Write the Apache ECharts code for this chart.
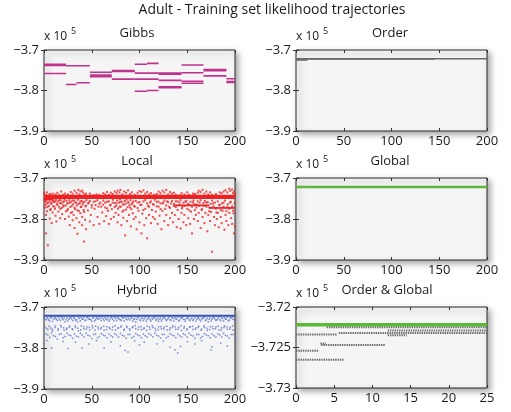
<!DOCTYPE html>
<html><head><meta charset="utf-8">
<script src="https://cdn.jsdelivr.net/npm/echarts@6/dist/echarts.min.js"></script>
<style>html,body{margin:0;padding:0;background:#fff}#c{width:511px;height:412px}</style>
</head><body><div id="c"></div>
<script>
const FONT = "'Open Sans', sans-serif";
const mainTitle = 'Adult - Training set likelihood trajectories';
const panelTitles = ['Gibbs', 'Order', 'Local', 'Global', 'Hybrid', 'Order & Global'];
const exponentText = 'x 10';
const exponentPower = '5';

// axis ranges per panel (values in units of 10^5)
const xMaxes = [200, 200, 200, 200, 200, 25];
const xSteps = [50, 50, 50, 50, 50, 5];
const yMins = [-3.9, -3.9, -3.9, -3.9, -3.9, -3.73];
const yMaxes = [-3.7, -3.7, -3.7, -3.7, -3.7, -3.72];
const ySteps = [0.1, 0.1, 0.1, 0.1, 0.1, 0.005];

// Gibbs: constant-value chain segments [xStart, xEnd, value]
const gibbsSegments = [
  [0,23,-3.735],[0,23,-3.738],[0,23,-3.758],
  [23,48,-3.739],[23,34,-3.785],[34,48,-3.781],
  [48,71,-3.755],[48,71,-3.762],[48,71,-3.766],
  [71,95,-3.751],[71,95,-3.753],[71,95,-3.772],
  [95,108,-3.735],[108,120,-3.733],[95,120,-3.757],[95,120,-3.772],[95,108,-3.802],[108,120,-3.800],
  [120,144,-3.757],[120,144,-3.760],[120,144,-3.775],[120,144,-3.791],[120,144,-3.793],
  [144,167,-3.737],[144,167,-3.756],[144,167,-3.777],[144,167,-3.782],
  [167,191,-3.748],[167,191,-3.751],[167,191,-3.764],
  [191,200,-3.771],[191,200,-3.778],[191,200,-3.780]
];

// Order: converged chains [xStart, xEnd, value]
const orderSegments = [[0,200,-3.7215],[0,145,-3.7225],[0,12,-3.7245]];

// Global: single trajectory
const globalSegments = [[0,200,-3.7222]];

// Local: dense band + secondary band + scattered samples
const localBand = [[0,200,-3.7445],[0,200,-3.7475],[0,10,-3.750]];
const localBand2 = [[136,173,-3.767],[173,200,-3.773]];
const localPoints = [
[1,-3.758],[1,-3.772],[2,-3.790],[2,-3.835],[3,-3.762],[3,-3.781],[4,-3.864],[4,-3.752],[5,-3.768],[6,-3.799],[6,-3.757],[7,-3.776],[8,-3.761],[8,-3.810],[9,-3.784],[10,-3.755],[0,-3.737],[3,-3.735],[6,-3.739],[9,-3.738],
[11,-3.770],[12,-3.792],[12,-3.758],[13,-3.806],[14,-3.765],[15,-3.782],[16,-3.754],[17,-3.775],[17,-3.798],[18,-3.762],[19,-3.788],[20,-3.770],[21,-3.757],[22,-3.800],[23,-3.781],[24,-3.763],[14,-3.736],[18,-3.733],[22,-3.738],
[25,-3.776],[26,-3.794],[27,-3.760],[27,-3.815],[28,-3.785],[29,-3.768],[30,-3.803],[30,-3.755],[31,-3.790],[32,-3.822],[32,-3.772],[33,-3.760],[34,-3.798],[35,-3.836],[35,-3.779],[36,-3.763],[37,-3.808],[38,-3.786],[38,-3.757],[39,-3.770],[40,-3.815],[40,-3.795],[41,-3.760],[42,-3.855],[42,-3.783],[43,-3.802],[44,-3.768],[44,-3.825],[28,-3.734],[32,-3.731],[36,-3.729],[38,-3.733],[41,-3.736],[44,-3.738],
[46,-3.779],[47,-3.760],[48,-3.806],[49,-3.790],[50,-3.766],[52,-3.815],[53,-3.775],[54,-3.757],[56,-3.795],[57,-3.770],[58,-3.812],[59,-3.760],[48,-3.738],[55,-3.740],
[61,-3.784],[62,-3.765],[63,-3.805],[64,-3.772],[65,-3.793],[66,-3.758],[67,-3.780],[68,-3.812],[69,-3.767],[70,-3.800],[71,-3.776],[72,-3.760],[73,-3.795],[74,-3.771],[62,-3.737],[66,-3.734],[70,-3.736],[74,-3.733],
[75,-3.785],[76,-3.762],[77,-3.808],[78,-3.790],[79,-3.770],[80,-3.758],[81,-3.815],[82,-3.782],[83,-3.797],[84,-3.765],[85,-3.840],[86,-3.777],[87,-3.805],[88,-3.760],[89,-3.790],[90,-3.772],[91,-3.818],[92,-3.764],[93,-3.786],[94,-3.800],[77,-3.731],[80,-3.729],[84,-3.733],[88,-3.730],[92,-3.735],
[95,-3.770],[96,-3.795],[97,-3.825],[98,-3.760],[99,-3.780],[100,-3.808],[101,-3.766],[102,-3.835],[103,-3.787],[104,-3.757],[105,-3.815],[106,-3.775],[107,-3.798],[108,-3.847],[109,-3.768],[110,-3.790],[111,-3.760],[112,-3.810],[113,-3.778],[114,-3.795],[100,-3.732],[104,-3.730],[108,-3.734],[112,-3.737],
[115,-3.765],[116,-3.800],[117,-3.782],[118,-3.758],[119,-3.812],[120,-3.770],[121,-3.792],[122,-3.762],[123,-3.825],[124,-3.780],[125,-3.760],[126,-3.805],[127,-3.775],[128,-3.790],[129,-3.757],[130,-3.815],[131,-3.770],[132,-3.798],[133,-3.762],[134,-3.785],[135,-3.808],[136,-3.768],[137,-3.790],[138,-3.757],[139,-3.820],[120,-3.733],[124,-3.731],[128,-3.729],[132,-3.734],[136,-3.736],
[140,-3.778],[141,-3.800],[142,-3.760],[143,-3.823],[144,-3.785],[145,-3.770],[146,-3.808],[147,-3.790],[148,-3.758],[149,-3.815],[150,-3.775],[151,-3.798],[152,-3.765],[153,-3.812],[154,-3.782],[155,-3.835],[156,-3.760],[157,-3.800],[158,-3.778],[159,-3.790],[144,-3.737],[150,-3.735],[156,-3.738],
[160,-3.765],[161,-3.805],[162,-3.785],[163,-3.760],[164,-3.822],[165,-3.778],[166,-3.795],[167,-3.768],[168,-3.810],[169,-3.785],[170,-3.760],[171,-3.830],[172,-3.790],[173,-3.772],[174,-3.805],[175,-3.783],[176,-3.880],[177,-3.762],[178,-3.795],[179,-3.815],[162,-3.731],[166,-3.729],[170,-3.733],[174,-3.735],
[180,-3.775],[181,-3.800],[182,-3.785],[183,-3.820],[184,-3.765],[185,-3.795],[186,-3.810],[187,-3.780],[188,-3.760],[189,-3.826],[190,-3.790],[191,-3.805],[192,-3.770],[193,-3.815],[194,-3.785],[195,-3.760],[196,-3.798],[197,-3.812],[198,-3.780],[199,-3.835],[200,-3.818],[184,-3.735],[190,-3.730],[194,-3.726],[197,-3.728],[199,-3.733]
];
// Local: extra samples close under the band
const localNearBand = [
[0.5,-3.753],[1.5,-3.766],[2.5,-3.756],[3.5,-3.771],[4.5,-3.760],[5.5,-3.752],[6.5,-3.778],[7.5,-3.763],[8.5,-3.755],[9.5,-3.769],
[10.5,-3.758],[11.5,-3.775],[12.5,-3.753],[13.5,-3.764],[14.5,-3.757],[15.5,-3.770],[16.5,-3.761],[17.5,-3.754],[18.5,-3.773],[19.5,-3.759],
[20.5,-3.766],[21.5,-3.752],[22.5,-3.768],[23.5,-3.756],[24.5,-3.779],[25.5,-3.761],[26.5,-3.754],[27.5,-3.771],[28.5,-3.758],[29.5,-3.783],
[30.5,-3.764],[31.5,-3.755],[32.5,-3.776],[33.5,-3.760],[34.5,-3.767],[35.5,-3.753],[36.5,-3.780],[37.5,-3.762],[38.5,-3.771],[39.5,-3.756],
[40.5,-3.765],[41.5,-3.778],[42.5,-3.758],[43.5,-3.769],[44.5,-3.754],[46,-3.762],[48,-3.756],[50,-3.772],[52,-3.758],[54,-3.766],
[56,-3.754],[58,-3.763],[60,-3.770],[62,-3.755],[64,-3.760],[66,-3.774],[68,-3.757],[70,-3.765],[72,-3.753],[74,-3.761],
[75.5,-3.768],[76.5,-3.755],[77.5,-3.775],[78.5,-3.760],[79.5,-3.752],[80.5,-3.770],[81.5,-3.758],[82.5,-3.764],[83.5,-3.779],[84.5,-3.756],
[85.5,-3.762],[86.5,-3.753],[87.5,-3.771],[88.5,-3.759],[89.5,-3.766],[90.5,-3.754],[91.5,-3.776],[92.5,-3.761],[93.5,-3.757],[94.5,-3.768],
[96,-3.756],[98,-3.773],[100,-3.759],[102,-3.765],[104,-3.778],[106,-3.754],[108,-3.762],[110,-3.770],[112,-3.757],[114,-3.764],
[116,-3.753],[118,-3.769],[120,-3.758],[122,-3.776],[124,-3.762],[126,-3.755],[128,-3.767],[130,-3.759],[132,-3.773],[134,-3.756],
[136,-3.763],[138,-3.771],[140,-3.757],[141.5,-3.766],[143,-3.754],[144.5,-3.774],[146,-3.760],[147.5,-3.768],[149,-3.756],[150.5,-3.763],
[152,-3.779],[153.5,-3.758],[155,-3.770],[156.5,-3.755],[158,-3.764],[159.5,-3.772],[161,-3.757],[162.5,-3.768],[164,-3.754],[165.5,-3.776],
[167,-3.761],[168.5,-3.756],[170,-3.770],[171.5,-3.759],[173,-3.781],[174.5,-3.763],[176,-3.755],[177.5,-3.769],[179,-3.760],[180.5,-3.784],
[182,-3.757],[183.5,-3.766],[185,-3.778],[186.5,-3.762],[188,-3.770],[189.5,-3.755],[191,-3.781],[192.5,-3.764],[194,-3.775],[195.5,-3.758],
[197,-3.769],[198.5,-3.786],[199.5,-3.762],
[2,-3.741],[7,-3.742],[12,-3.740],[16,-3.742],[20,-3.741],[25,-3.740],[30,-3.738],[34,-3.736],[37,-3.740],[40,-3.731],[43,-3.741],[52,-3.742],[58,-3.741],[64,-3.740],[68,-3.741],[72,-3.739],[76,-3.737],[79,-3.735],[82,-3.740],[86,-3.736],[90,-3.739],[95,-3.741],[98,-3.736],[102,-3.734],[106,-3.738],[110,-3.740],[115,-3.741],[118,-3.739],[122,-3.737],[126,-3.735],[130,-3.740],[134,-3.738],[138,-3.741],[142,-3.742],[147,-3.740],[152,-3.741],[158,-3.739],[161,-3.736],[164,-3.734],[168,-3.738],[172,-3.740],[176,-3.741],[180,-3.739],[186,-3.737],[188,-3.733],[192,-3.735],[195,-3.731],[198,-3.737],[200,-3.739]
];

// Hybrid: best-chain line + scattered samples
const hybridLine = [[0,200,-3.7215]];
const hybridPoints = [
[0,-3.726],[2,-3.731],[4,-3.728],[6,-3.734],[8,-3.725],[10,-3.730],[12,-3.727],[14,-3.733],[16,-3.729],[18,-3.725],[20,-3.731],[22,-3.736],[24,-3.727],[26,-3.730],[28,-3.725],[30,-3.733],[32,-3.728],[34,-3.731],[36,-3.726],[38,-3.734],[40,-3.729],[42,-3.725],[44,-3.732],[46,-3.727],[48,-3.730],[50,-3.735],[52,-3.726],[54,-3.731],[56,-3.728],[58,-3.724],[60,-3.733],[62,-3.729],[64,-3.726],[66,-3.731],[68,-3.735],[70,-3.727],[72,-3.730],[74,-3.725],[76,-3.733],[78,-3.728],[80,-3.731],[82,-3.726],[84,-3.734],[86,-3.729],[88,-3.725],[90,-3.732],[92,-3.727],[94,-3.730],[96,-3.736],[98,-3.726],[100,-3.731],[102,-3.728],[104,-3.733],[106,-3.725],[108,-3.730],[110,-3.727],[112,-3.734],[114,-3.729],[116,-3.726],[118,-3.731],[120,-3.735],[122,-3.727],[124,-3.730],[126,-3.725],[128,-3.733],[130,-3.728],[132,-3.731],[134,-3.726],[136,-3.734],[138,-3.729],[140,-3.725],[142,-3.732],[144,-3.727],[146,-3.730],[148,-3.735],[150,-3.726],[152,-3.731],[154,-3.728],[156,-3.733],[158,-3.725],[160,-3.730],[162,-3.727],[164,-3.734],[166,-3.729],[168,-3.726],[170,-3.731],[172,-3.736],[174,-3.727],[176,-3.730],[178,-3.725],[180,-3.733],[182,-3.728],[184,-3.731],[186,-3.726],[188,-3.734],[190,-3.729],[192,-3.725],[194,-3.732],[196,-3.727],[198,-3.730],[200,-3.734],
[1,-3.748],[4,-3.755],[7,-3.751],[9,-3.758],[12,-3.746],[15,-3.753],[18,-3.749],[21,-3.757],[24,-3.752],[27,-3.747],[30,-3.755],[33,-3.750],[36,-3.758],[39,-3.746],[42,-3.753],[45,-3.749],[48,-3.756],[51,-3.751],[54,-3.747],[57,-3.754],[60,-3.750],[63,-3.757],[66,-3.748],[69,-3.753],[72,-3.749],[75,-3.756],[78,-3.751],[81,-3.746],[84,-3.754],[87,-3.750],[90,-3.757],[93,-3.748],[96,-3.753],[99,-3.749],[102,-3.755],[105,-3.751],[108,-3.747],[111,-3.754],[114,-3.750],[117,-3.757],[120,-3.748],[123,-3.753],[126,-3.749],[129,-3.756],[132,-3.751],[135,-3.746],[138,-3.754],[141,-3.750],[144,-3.757],[147,-3.748],[150,-3.753],[153,-3.749],[156,-3.755],[159,-3.751],[162,-3.747],[165,-3.754],[168,-3.750],[171,-3.757],[174,-3.748],[177,-3.753],[180,-3.749],[183,-3.756],[186,-3.751],[189,-3.746],[192,-3.754],[195,-3.750],[198,-3.757],
[2,-3.766],[6,-3.774],[10,-3.770],[14,-3.778],[18,-3.765],[22,-3.772],[26,-3.768],[30,-3.776],[34,-3.771],[38,-3.764],[42,-3.773],[46,-3.769],[50,-3.777],[54,-3.766],[58,-3.772],[62,-3.768],[66,-3.775],[70,-3.770],[74,-3.765],[78,-3.773],[82,-3.769],[86,-3.776],[90,-3.767],[94,-3.772],[98,-3.768],[102,-3.775],[106,-3.770],[110,-3.765],[114,-3.773],[118,-3.769],[122,-3.776],[126,-3.767],[130,-3.772],[134,-3.768],[138,-3.775],[142,-3.770],[146,-3.765],[150,-3.773],[154,-3.769],[158,-3.776],[162,-3.767],[166,-3.772],[170,-3.768],[174,-3.775],[178,-3.770],[182,-3.765],[186,-3.773],[190,-3.769],[194,-3.776],[198,-3.767],
[3,-3.782],[8,-3.800],[20,-3.784],[25,-3.801],[33,-3.786],[40,-3.800],[47,-3.790],[55,-3.782],[63,-3.800],[70,-3.785],[80,-3.795],[85,-3.806],[88,-3.810],[95,-3.783],[100,-3.792],[105,-3.786],[118,-3.790],[125,-3.783],[132,-3.798],[137,-3.804],[140,-3.812],[143,-3.796],[150,-3.785],[158,-3.790],[165,-3.782],[175,-3.805],[176,-3.797],[185,-3.788],[192,-3.795]
];
const hybridPoints2 = [
[1,-3.729],[3,-3.725],[5,-3.732],[7,-3.727],[9,-3.735],[11,-3.726],[13,-3.730],[15,-3.724],[17,-3.733],[19,-3.728],[21,-3.726],[23,-3.731],[25,-3.734],[27,-3.727],[29,-3.729],[31,-3.725],[33,-3.732],[35,-3.736],[37,-3.728],[39,-3.726],[41,-3.730],[43,-3.733],[45,-3.725],[47,-3.729],[49,-3.731],[51,-3.727],[53,-3.734],[55,-3.726],[57,-3.730],[59,-3.728],[61,-3.725],[63,-3.733],[65,-3.729],[67,-3.727],[69,-3.731],[71,-3.725],[73,-3.734],[75,-3.728],[77,-3.726],[79,-3.730],[81,-3.733],[83,-3.727],[85,-3.725],[87,-3.731],[89,-3.729],[91,-3.726],[93,-3.734],[95,-3.728],[97,-3.730],[99,-3.725],[101,-3.733],[103,-3.727],[105,-3.729],[107,-3.735],[109,-3.726],[111,-3.731],[113,-3.728],[115,-3.725],[117,-3.732],[119,-3.727],[121,-3.730],[123,-3.734],[125,-3.726],[127,-3.729],[129,-3.731],[131,-3.725],[133,-3.733],[135,-3.728],[137,-3.726],[139,-3.730],[141,-3.734],[143,-3.727],[145,-3.725],[147,-3.731],[149,-3.729],[151,-3.726],[153,-3.733],[155,-3.728],[157,-3.730],[159,-3.735],[161,-3.726],[163,-3.731],[165,-3.728],[167,-3.725],[169,-3.733],[171,-3.727],[173,-3.730],[175,-3.734],[177,-3.726],[179,-3.729],[181,-3.731],[183,-3.725],[185,-3.733],[187,-3.728],[189,-3.726],[191,-3.730],[193,-3.734],[195,-3.727],[197,-3.725],[199,-3.731],
[2.5,-3.752],[5.5,-3.747],[8.5,-3.754],[11.5,-3.750],[14.5,-3.757],[17.5,-3.745],[20.5,-3.751],[23.5,-3.755],[26.5,-3.749],[29.5,-3.753],[32.5,-3.746],[35.5,-3.752],[38.5,-3.756],[41.5,-3.748],[44.5,-3.754],[47.5,-3.750],[50.5,-3.746],[53.5,-3.757],[56.5,-3.749],[59.5,-3.753],[62.5,-3.747],[65.5,-3.755],[68.5,-3.750],[71.5,-3.756],[74.5,-3.746],[77.5,-3.752],[80.5,-3.749],[83.5,-3.757],[86.5,-3.747],[89.5,-3.753],[92.5,-3.750],[95.5,-3.746],[98.5,-3.755],[101.5,-3.748],[104.5,-3.753],[107.5,-3.757],[110.5,-3.749],[113.5,-3.746],[116.5,-3.752],[119.5,-3.755],[122.5,-3.748],[125.5,-3.753],[128.5,-3.747],[131.5,-3.756],[134.5,-3.750],[137.5,-3.748],[140.5,-3.754],[143.5,-3.746],[146.5,-3.752],[149.5,-3.756],[152.5,-3.749],[155.5,-3.747],[158.5,-3.754],[161.5,-3.750],[164.5,-3.757],[167.5,-3.746],[170.5,-3.752],[173.5,-3.755],[176.5,-3.748],[179.5,-3.753],[182.5,-3.747],[185.5,-3.756],[188.5,-3.750],[191.5,-3.748],[194.5,-3.754],[197.5,-3.746],
[4,-3.768],[8,-3.763],[12,-3.772],[16,-3.767],[20,-3.775],[24,-3.764],[28,-3.770],[32,-3.766],[36,-3.773],[40,-3.768],[44,-3.764],[48,-3.771],[52,-3.767],[56,-3.775],[60,-3.765],[64,-3.770],[68,-3.766],[72,-3.773],[76,-3.768],[80,-3.764],[84,-3.771],[88,-3.767],[92,-3.775],[96,-3.765],[100,-3.770],[104,-3.766],[108,-3.773],[112,-3.768],[116,-3.764],[120,-3.771],[124,-3.767],[128,-3.775],[132,-3.765],[136,-3.770],[140,-3.766],[144,-3.773],[148,-3.768],[152,-3.764],[156,-3.771],[160,-3.767],[164,-3.775],[168,-3.765],[172,-3.770],[176,-3.766],[180,-3.773],[184,-3.768],[188,-3.764],[192,-3.771],[196,-3.767],[200,-3.774]
];

// Order & Global (first 25 iterations)
const ogGlobal = [[0,25,-3.7222]];
const ogOrderRows = [
  [4.0,25,-3.7225],[12,25,-3.7229],[5.6,25,-3.7232],[12,14.5,-3.7235],[0,5.4,-3.7234],
  [3.2,3.9,-3.7245],[3.3,11.7,-3.7247],[0,3.0,-3.7254],[0,6.3,-3.7265]
];

// ---------- layout ----------
const grids = [
  {left:44, top:50, width:191, height:81},
  {left:296, top:50, width:191, height:81},
  {left:44, top:178, width:191, height:82},
  {left:296, top:178, width:191, height:82},
  {left:44, top:307, width:191, height:82},
  {left:296, top:307, width:191, height:81}
];
const COL = {gibbs:'#bf338c', order:'#6a6a6a', local:'#ee2222', global:'#5db83a', hybrid:'#3550b8', hybridDots:'#5570cc'};

function fmtY(v){ const r = parseFloat(Number(v).toFixed(4)); return (r<0?'\u2212':'') + Math.abs(r); }

const xAxes = [], yAxes = [], series = [];
grids.forEach((g,i)=>{
  const tick = {show:true, inside:true, length:3, lineStyle:{color:'#333', width:1}};
  xAxes.push({gridIndex:i, type:'value', position:'bottom', min:0, max:xMaxes[i], interval:xSteps[i],
    axisLine:{show:false}, axisTick:tick, splitLine:{show:false},
    axisLabel:{color:'#1a1a1a', fontSize:13, fontFamily:FONT, margin:4}});
  xAxes.push({gridIndex:i, type:'value', position:'top', min:0, max:xMaxes[i], interval:xSteps[i],
    axisLine:{show:false}, axisTick:tick, splitLine:{show:false}, axisLabel:{show:false}});
  yAxes.push({gridIndex:i, type:'value', position:'left', min:yMins[i], max:yMaxes[i], interval:ySteps[i],
    axisLine:{show:false}, axisTick:tick, splitLine:{show:false},
    axisLabel:{color:'#1a1a1a', fontSize:13, fontFamily:FONT, margin:5, formatter:fmtY}});
  yAxes.push({gridIndex:i, type:'value', position:'right', min:yMins[i], max:yMaxes[i], interval:ySteps[i],
    axisLine:{show:false}, axisTick:tick, splitLine:{show:false}, axisLabel:{show:false}});
});

function addSegments(panel, segs, color, width, type){
  segs.forEach(s=>{
    series.push({type:'line', xAxisIndex:panel*2, yAxisIndex:panel*2, silent:true, animation:false,
      symbol:'none', data:[[s[0],s[2]],[s[1],s[2]]],
      lineStyle:{color:color, width:width, type:type||'solid', cap:'butt'}});
  });
}
function addPoints(panel, pts, color, size){
  series.push({type:'scatter', xAxisIndex:panel*2, yAxisIndex:panel*2, silent:true, animation:false,
    symbol:'rect', symbolSize:size, data:pts, itemStyle:{color:color}});
}

addSegments(0, gibbsSegments, COL.gibbs, 1.6);
addSegments(1, orderSegments, COL.order, 1.5);
addPoints(2, localPoints, COL.local, 2);
addPoints(2, localNearBand, COL.local, 2);
addSegments(2, localBand, COL.local, 3);
addSegments(2, localBand2, COL.local, 1.8);
addSegments(3, globalSegments, COL.global, 2.5);
addPoints(4, hybridPoints, COL.hybridDots, 1.5);
addPoints(4, hybridPoints2, COL.hybridDots, 1.5);
addSegments(4, hybridLine, COL.hybrid, 2);
addSegments(5, ogOrderRows, COL.order, 2, [1.4,0.9]);
addSegments(5, ogGlobal, COL.global, 3.5);

const titlePos = [[137,35],[390,35],[137,163],[390,163],[137,292],[387,292]];
const graphics = [];
graphics.push({type:'text', x:272, y:3, style:{text:mainTitle, font:'14px '+FONT, fill:'#1a1a1a', textAlign:'center'}});
panelTitles.forEach((t,i)=>{
  graphics.push({type:'text', x:titlePos[i][0], y:titlePos[i][1]-8, style:{text:t, font:'13px '+FONT, fill:'#1a1a1a', textAlign:'center'}});
  const g = grids[i];
  graphics.push({type:'text', x:g.left, y:g.top-19, style:{text:exponentText, font:'12px '+FONT, fill:'#1a1a1a'}});
  graphics.push({type:'text', x:g.left+27, y:g.top-23, style:{text:exponentPower, font:'9px '+FONT, fill:'#1a1a1a'}});
});

const chart = echarts.init(document.getElementById('c'), null, {renderer:'canvas'});
chart.setOption({
  backgroundColor:'#ffffff',
  animation:false,
  grid: grids.map(g=>Object.assign({show:true, backgroundColor:'#f5f5f5', borderColor:'#2a2a2a', borderWidth:1,
    shadowBlur:6, shadowColor:'rgba(0,0,0,0.35)', shadowOffsetX:3, shadowOffsetY:3}, g)),
  xAxis: xAxes, yAxis: yAxes, series: series, graphic: graphics
});
</script></body></html>
